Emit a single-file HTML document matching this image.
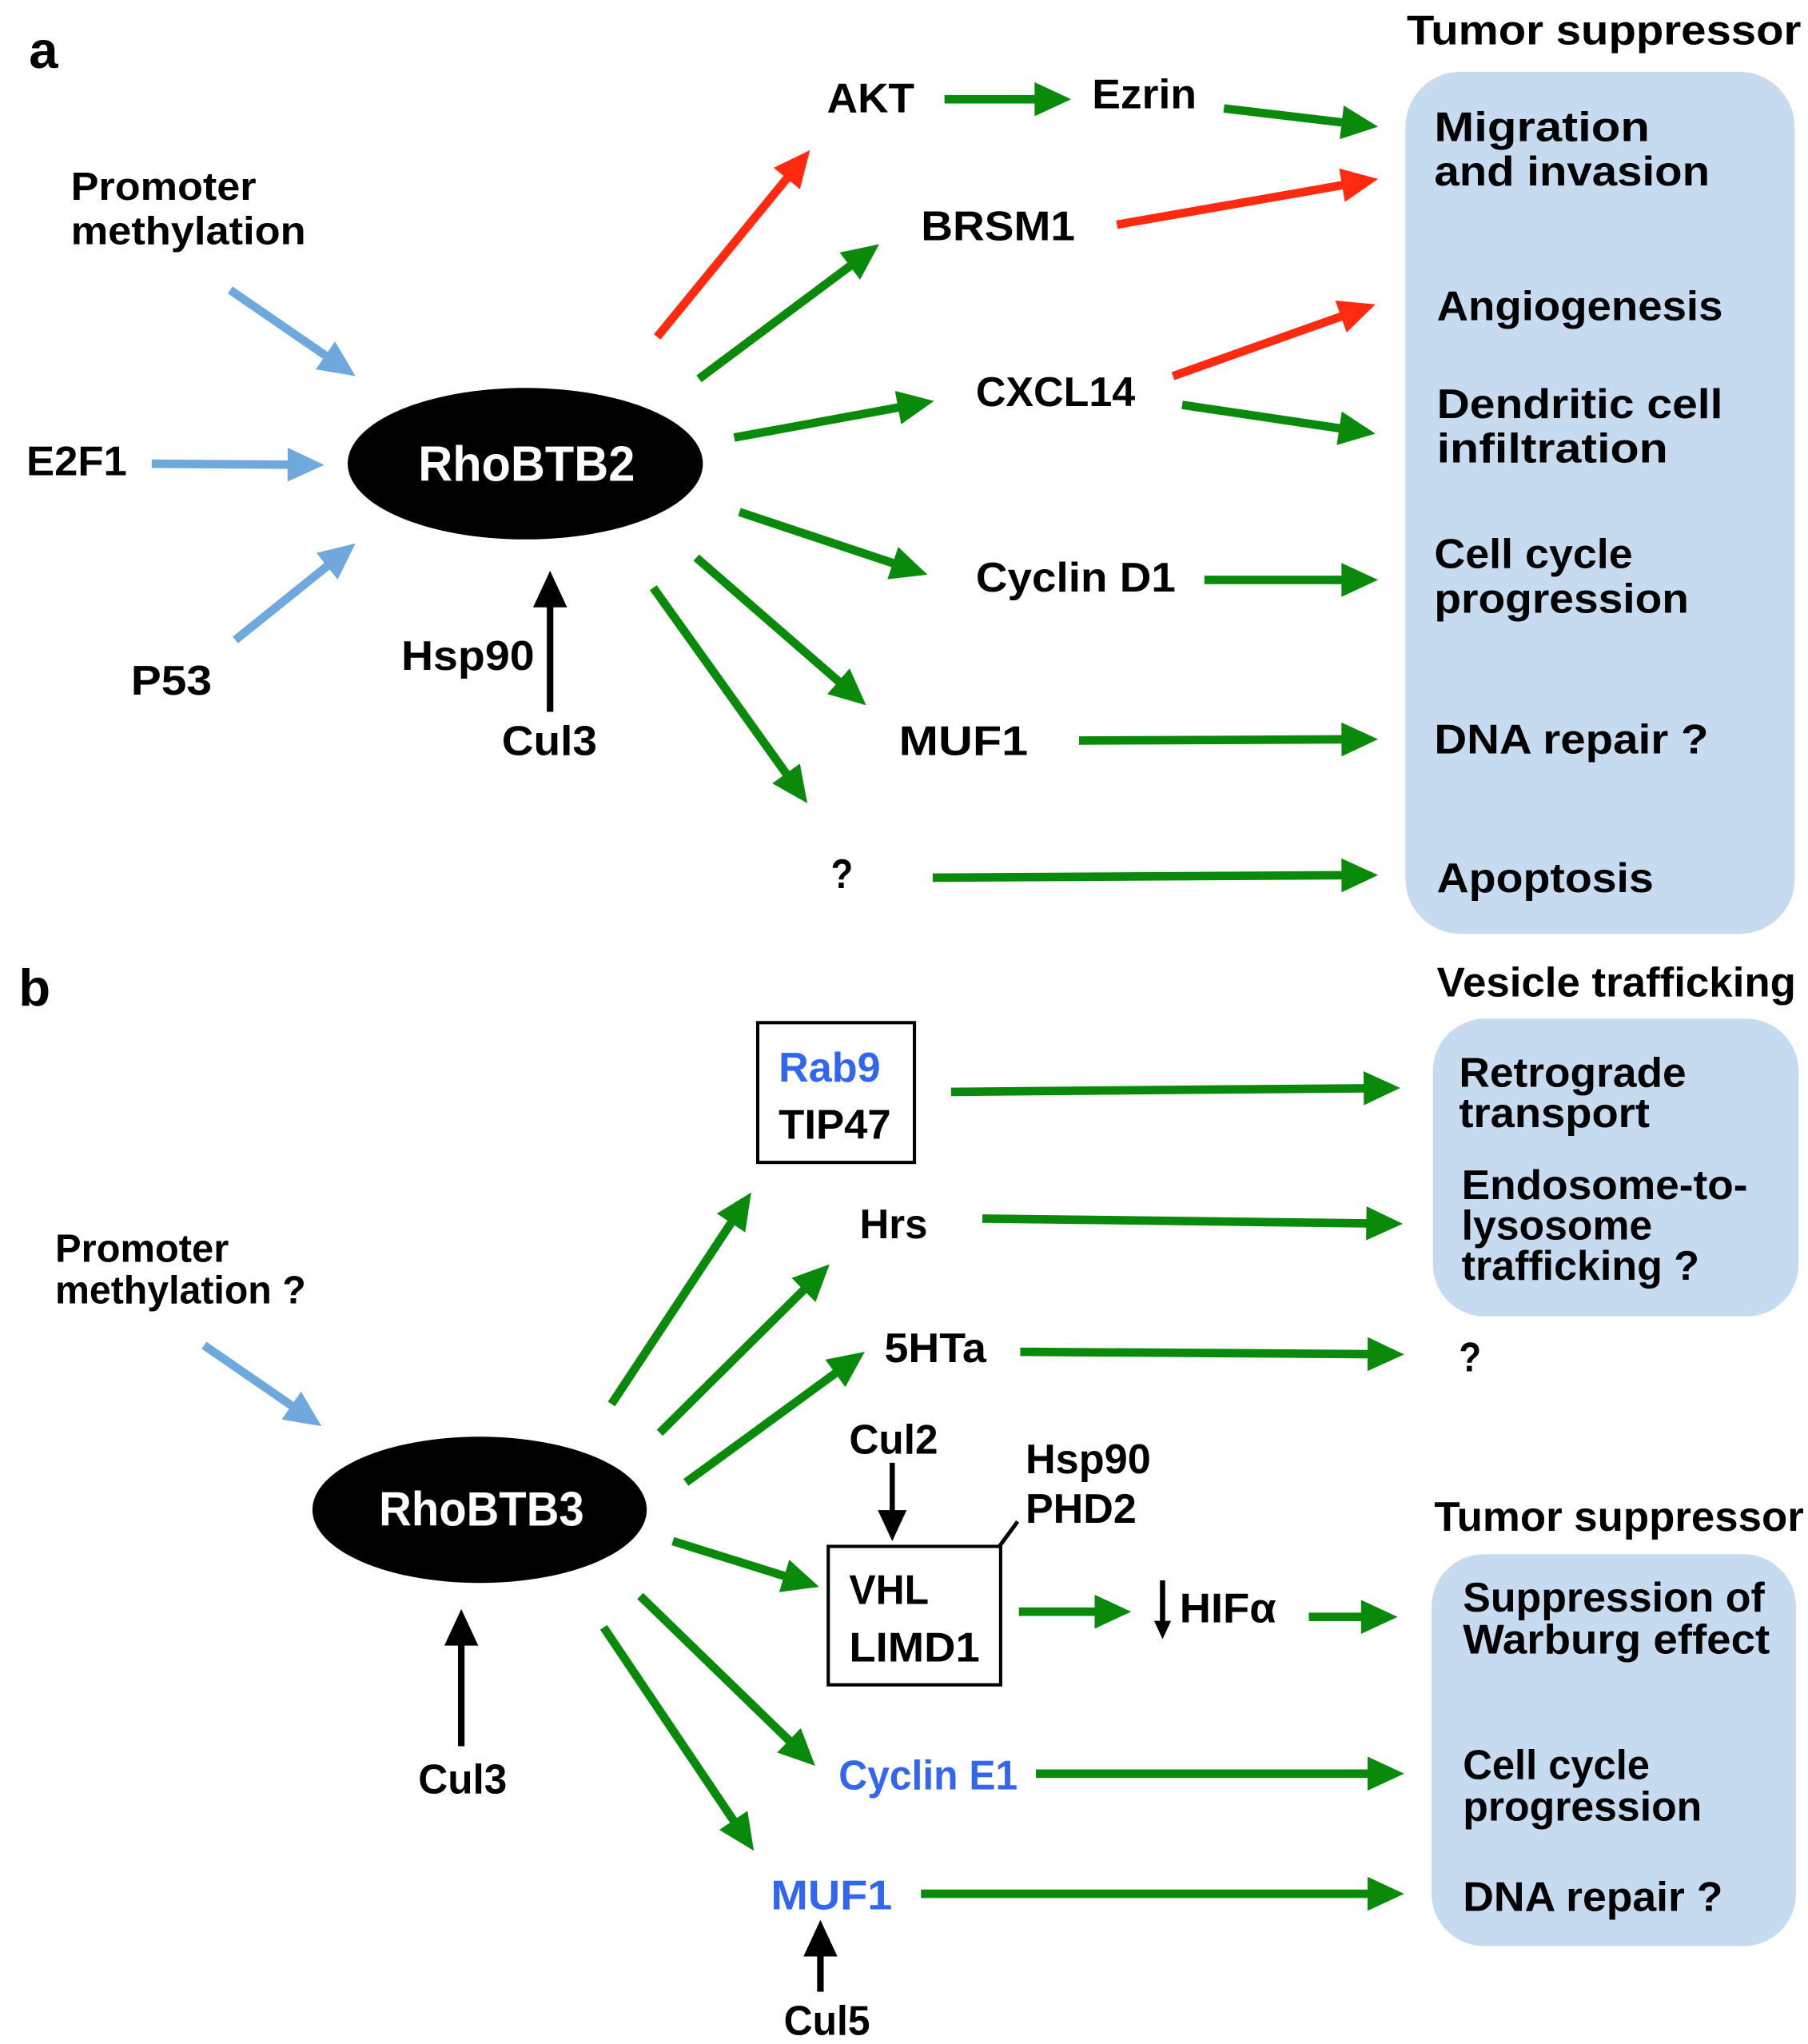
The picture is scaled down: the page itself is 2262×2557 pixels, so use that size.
<!DOCTYPE html>
<html><head><meta charset="utf-8"><style>
html,body{margin:0;padding:0;background:#fff}
svg{display:block}
text{font-family:"Liberation Sans",sans-serif;font-weight:bold;font-size:32px;fill:#000}
</style></head><body>
<svg id="s" width="2262" height="2557" viewBox="0 0 1384 1565" xmlns="http://www.w3.org/2000/svg">
<rect width="1384" height="1565" fill="#fff"/>
<rect x="1076" y="55" width="298" height="660" rx="42" fill="#c6dbef"/>
<rect x="1097" y="780" width="280" height="228" rx="40" fill="#c6dbef"/>
<rect x="1096" y="1190" width="279" height="300" rx="40" fill="#c6dbef"/>
<ellipse cx="402" cy="355" rx="136" ry="58" fill="#000"/>
<ellipse cx="367" cy="1156" rx="128" ry="56" fill="#000"/>
<rect x="580" y="783" width="120" height="107" fill="none" stroke="#000" stroke-width="2.5"/>
<rect x="634" y="1184" width="132" height="106" fill="none" stroke="#000" stroke-width="2.5"/>
<line x1="765" y1="1184" x2="779" y2="1165" stroke="#000" stroke-width="3"/>
<g id="arrows"></g>
<g id="t">
<text x="22" y="52" style="font-size:40px">a</text>
<text x="1077" y="34" textLength="302">Tumor suppressor</text>
<text x="1098" y="108" textLength="165">Migration</text>
<text x="1098" y="142" textLength="211">and invasion</text>
<text x="1100" y="245" textLength="219">Angiogenesis</text>
<text x="1100" y="320" textLength="219">Dendritic cell</text>
<text x="1100" y="354" textLength="177">infiltration</text>
<text x="1098" y="435" textLength="152">Cell cycle</text>
<text x="1098" y="469" textLength="195">progression</text>
<text x="1098" y="577" textLength="210">DNA repair ?</text>
<text x="1100" y="683" textLength="166">Apoptosis</text>
<text x="54" y="153" style="font-size:30px" textLength="142">Promoter</text>
<text x="54" y="187" style="font-size:30px" textLength="180">methylation</text>
<text x="20" y="364" textLength="77">E2F1</text>
<text x="100" y="532" textLength="62">P53</text>
<text x="307" y="513" textLength="102">Hsp90</text>
<text x="384" y="578" textLength="73">Cul3</text>
<text x="320" y="368" style="font-size:38px;fill:#fff" textLength="166">RhoBTB2</text>
<text x="633" y="86" textLength="67">AKT</text>
<text x="836" y="83" textLength="80">Ezrin</text>
<text x="705" y="184" textLength="118">BRSM1</text>
<text x="747" y="311" textLength="122">CXCL14</text>
<text x="747" y="453" textLength="153">Cyclin D1</text>
<text x="688" y="578" textLength="99">MUF1</text>
<text x="636" y="680" textLength="17">?</text>
<text x="14" y="770" style="font-size:40px">b</text>
<text x="1100" y="763" textLength="275">Vesicle trafficking</text>
<text x="1117" y="832" textLength="174">Retrograde</text>
<text x="1117" y="863" textLength="146">transport</text>
<text x="1119" y="918" textLength="219">Endosome-to-</text>
<text x="1119" y="949" textLength="146">lysosome</text>
<text x="1119" y="980" textLength="182">trafficking ?</text>
<text x="1117" y="1050" textLength="17">?</text>
<text x="1098" y="1172" textLength="283">Tumor suppressor</text>
<text x="1120" y="1234" textLength="231">Suppression of</text>
<text x="1120" y="1266" textLength="235">Warburg effect</text>
<text x="1120" y="1362" textLength="143">Cell cycle</text>
<text x="1120" y="1394" textLength="183">progression</text>
<text x="1120" y="1463" textLength="199">DNA repair ?</text>
<text x="596" y="828" style="fill:#3366ee" textLength="78">Rab9</text>
<text x="596" y="872" textLength="86">TIP47</text>
<text x="658" y="948" textLength="52">Hrs</text>
<text x="677" y="1043" textLength="78">5HTa</text>
<text x="650" y="1113" textLength="68">Cul2</text>
<text x="785" y="1128" textLength="96">Hsp90</text>
<text x="785" y="1166" textLength="85">PHD2</text>
<text x="650" y="1228" textLength="61">VHL</text>
<text x="650" y="1272" textLength="100">LIMD1</text>
<text x="903" y="1242" textLength="74">HIFα</text>
<text x="642" y="1370" style="fill:#3366ee" textLength="137">Cyclin E1</text>
<text x="590" y="1462" style="fill:#3366ee" textLength="93">MUF1</text>
<text x="600" y="1558" textLength="66">Cul5</text>
<text x="320" y="1373" textLength="68">Cul3</text>
<text x="42" y="966" style="font-size:30px" textLength="133">Promoter</text>
<text x="42" y="998" style="font-size:30px" textLength="192">methylation ?</text>
<text x="290" y="1168" style="font-size:37px;fill:#fff" textLength="157">RhoBTB3</text>
</g>
</svg>
<script>
document.querySelectorAll('#t text').forEach(function(t){if(t.getAttribute('textLength'))t.setAttribute('lengthAdjust','spacingAndGlyphs');});
var G='#0a8a0a',R='#ff2a10',B='#6fa8dc',K='#000';
var A=[
[176,222,272,288,B],[116,355,248,356,B],[180,490,272,416,B],[421,545,421,437,K],
[503,258,620,115,R],[535,290,673,187,G],[562,335,715,307,G],[566,392,710,440,G],[533,427,663,540,G],[500,450,618,615,G],
[723,76,820,76,G],[937,83,1055,97,G],[855,172,1055,137,R],[898,288,1053,233,R],[905,310,1053,332,G],[922,444,1055,444,G],[826,567,1055,566,G],[714,672,1055,670,G],
[156,1030,246,1092,B],[353,1337,353,1232,K],[683,1120,683,1180,K,0.85],[890,1210,890,1255,K,0.5],
[468,1075,575,913,G],[505,1097,635,968,G],[525,1135,662,1035,G],[515,1180,627,1215,G],[490,1222,624,1352,G],[462,1246,577,1417,G],
[728,836,1072,833,G],[752,933,1074,937,G],[781,1035,1075,1037,G],[780,1234,866,1234,G],[1002,1238,1070,1238,G],[793,1358,1075,1358,G],[705,1450,1075,1450,G],[628,1525,628,1470,K]];
var g=document.getElementById('arrows'),h='';
A.forEach(function(a){var x1=a[0],y1=a[1],x2=a[2],y2=a[3],c=a[4],s=a[5]||1;
var dx=x2-x1,dy=y2-y1,L=Math.sqrt(dx*dx+dy*dy),ux=dx/L,uy=dy/L,px=-uy,py=ux;
var hl=28*s,hw=13*s,w=(c==K?5:6.5)*(s<1?0.8:1);
var bx=x2-ux*hl,by=y2-uy*hl;
h+='<line x1="'+x1+'" y1="'+y1+'" x2="'+(bx+ux*2)+'" y2="'+(by+uy*2)+'" stroke="'+c+'" stroke-width="'+w+'"/>';
h+='<polygon fill="'+c+'" points="'+x2+','+y2+' '+(bx+px*hw)+','+(by+py*hw)+' '+(bx-px*hw)+','+(by-py*hw)+'"/>';});
g.innerHTML=h;
</script>
</body></html>
